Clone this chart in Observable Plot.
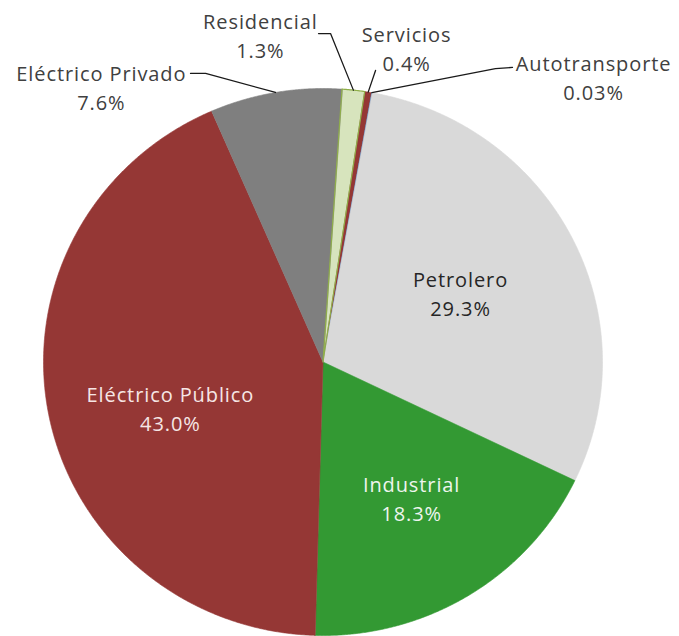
<!DOCTYPE html>
<html><head><meta charset="utf-8">
<script src="https://cdn.jsdelivr.net/npm/d3@7"></script>
<script src="https://cdn.jsdelivr.net/npm/@observablehq/plot@0.6"></script>
<style>
body{margin:0;background:#fff}
#chart svg text{letter-spacing:0.9px}
</style>
</head><body><div id="chart"></div>
<script>
// ---- data ----
const categories = ["Residencial", "Servicios", "Autotransporte", "Petrolero", "Industrial", "Eléctrico Público", "Eléctrico Privado"];
const values = [1.3, 0.4, 0.03, 29.3, 18.3, 43.0, 7.6];
const valueLabels = ["1.3%", "0.4%", "0.03%", "29.3%", "18.3%", "43.0%", "7.6%"];

// ---- styles / layout ----
const sliceColors = ["#d7e4bd", "#953735", "#4f81bd", "#d9d9d9", "#339933", "#953735", "#7f7f7f"];
const startDeg = 3.9;
// label centres and leader elbows in pie units (radius = 1)
const labelLayout = {
  "Residencial":      {x: -0.224, y: 1.197, leader: [[0.027, 1.201], [-0.016, 1.201]], color: "#404040"},
  "Servicios":        {x: 0.299,  y: 1.150, leader: [[0.188, 1.066]], color: "#404040"},
  "Autotransporte":   {x: 0.968,  y: 1.044, leader: [[0.617, 1.073], [0.678, 1.077]], color: "#404040"},
  "Petrolero":        {x: 0.492,  y: 0.254, leader: null, color: "#262626"},
  "Industrial":       {x: 0.317,  y: -0.495, leader: null, color: "#eef5ee"},
  "Eléctrico Público":{x: -0.546, y: -0.166, leader: null, color: "#f6e6e5"},
  "Eléctrico Privado":{x: -0.793, y: 1.007, leader: [[-0.420, 1.055], [-0.474, 1.055]], color: "#404040"}
};

const rows = categories.map((name, i) => ({name, value: values[i], label: valueLabels[i]}));
const a0 = startDeg * Math.PI / 180;
const arcs = d3.pie().sort(null).value(d => d.value).startAngle(a0).endAngle(a0 + 2 * Math.PI)(rows);

const slicePts = [];
const leaderPts = [];
arcs.forEach(a => {
  const name = a.data.name;
  const n = Math.max(2, Math.ceil((a.endAngle - a.startAngle) / 0.005));
  slicePts.push({name, x: 0, y: 0});
  for (let k = 0; k <= n; k++) {
    const t = a.startAngle + (a.endAngle - a.startAngle) * k / n;
    slicePts.push({name, x: Math.sin(t), y: Math.cos(t)});
  }
  const L = labelLayout[name];
  if (L.leader) {
    const mid = (a.startAngle + a.endAngle) / 2;
    leaderPts.push({name, x: Math.sin(mid), y: Math.cos(mid)});
    L.leader.forEach(([x, y]) => leaderPts.push({name, x, y}));
  }
});

const labelRows = rows.map(r => ({...r, x: labelLayout[r.name].x, y: labelLayout[r.name].y, color: labelLayout[r.name].color}));
const textOpts = (color) => ({
  x: "x", y: "y", text: d => d.name + "\n" + d.label,
  fill: color, fontSize: 20, lineHeight: 1.45, fontFamily: "Open Sans", lineAnchor: "middle"
});
const textColors = [...new Set(labelRows.map(d => d.color))];

const chart = Plot.plot({
  width: 679, height: 636,
  marginLeft: 43, marginRight: 77, marginTop: 88, marginBottom: 1,
  x: {domain: [-1, 1], axis: null},
  y: {domain: [-1, 1], axis: null},
  color: {domain: categories, range: sliceColors},
  style: {fontFamily: "Open Sans", background: "#fff"},
  marks: [
    Plot.line(slicePts, {x: "x", y: "y", z: "name", fill: "name", stroke: "name", strokeWidth: 0.6, curve: "linear-closed"}),
    Plot.line(slicePts.filter(d => d.name === "Residencial"), {x: "x", y: "y", stroke: "#8fae4a", strokeWidth: 1.2, curve: "linear-closed"}),
    Plot.line(leaderPts, {x: "x", y: "y", z: "name", stroke: "#1a1a1a", strokeWidth: 1.3}),
    ...textColors.map(c => Plot.text(labelRows.filter(d => d.color === c), textOpts(c)))
  ]
});
document.getElementById("chart").append(chart);
</script>
</body></html>
